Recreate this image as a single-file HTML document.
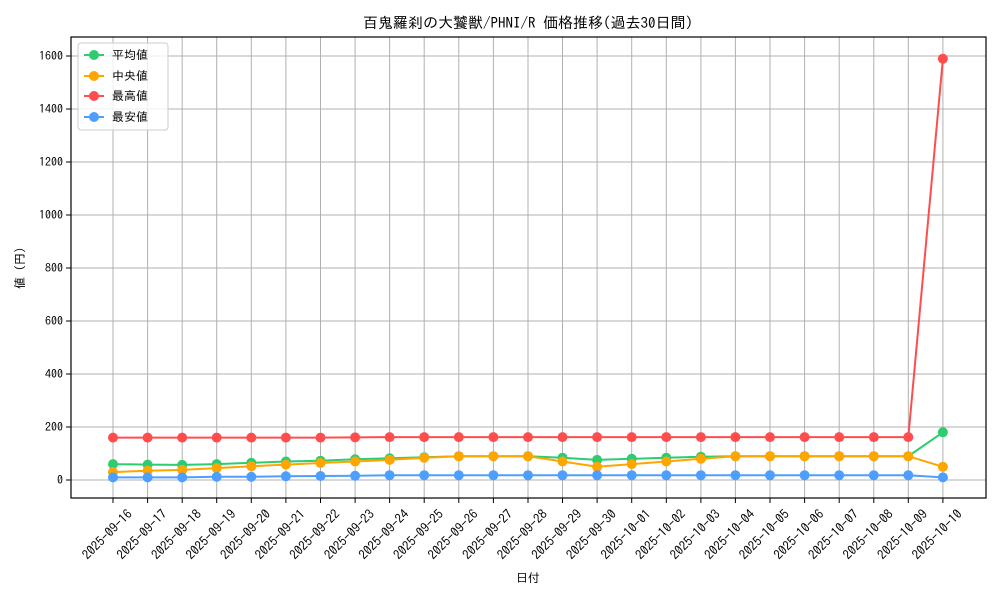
<!DOCTYPE html>
<html><head><meta charset="utf-8"><style>
body{margin:0;background:#fff}
svg{display:block;font-family:"IPAGothic","Liberation Sans",sans-serif}
</style></head><body>
<svg width="1000" height="600" viewBox="0 0 1000 600" xmlns="http://www.w3.org/2000/svg">
<defs>
<marker id="mg" markerWidth="12" markerHeight="12" refX="6" refY="6" markerUnits="userSpaceOnUse"><circle cx="6" cy="6" r="5" fill="#2ecc71"/></marker>
<marker id="mo" markerWidth="12" markerHeight="12" refX="6" refY="6" markerUnits="userSpaceOnUse"><circle cx="6" cy="6" r="5" fill="#ffa500"/></marker>
<marker id="mr" markerWidth="12" markerHeight="12" refX="6" refY="6" markerUnits="userSpaceOnUse"><circle cx="6" cy="6" r="5" fill="#ff4d4d"/></marker>
<marker id="mb" markerWidth="12" markerHeight="12" refX="6" refY="6" markerUnits="userSpaceOnUse"><circle cx="6" cy="6" r="5" fill="#4d9fff"/></marker>
</defs>
<text x="528" y="28" font-size="15" text-anchor="middle">百鬼羅刹の大饕獣/PHNI/R 価格推移(過去30日間)</text>
<g stroke="#b0b0b0" stroke-width="1">
<line x1="113" y1="37" x2="113" y2="498"/><line x1="147.6" y1="37" x2="147.6" y2="498"/><line x1="182.2" y1="37" x2="182.2" y2="498"/><line x1="216.7" y1="37" x2="216.7" y2="498"/><line x1="251.3" y1="37" x2="251.3" y2="498"/><line x1="285.9" y1="37" x2="285.9" y2="498"/><line x1="320.5" y1="37" x2="320.5" y2="498"/><line x1="355.1" y1="37" x2="355.1" y2="498"/><line x1="389.6" y1="37" x2="389.6" y2="498"/><line x1="424.2" y1="37" x2="424.2" y2="498"/><line x1="458.8" y1="37" x2="458.8" y2="498"/><line x1="493.4" y1="37" x2="493.4" y2="498"/><line x1="528" y1="37" x2="528" y2="498"/><line x1="562.5" y1="37" x2="562.5" y2="498"/><line x1="597.1" y1="37" x2="597.1" y2="498"/><line x1="631.7" y1="37" x2="631.7" y2="498"/><line x1="666.3" y1="37" x2="666.3" y2="498"/><line x1="700.9" y1="37" x2="700.9" y2="498"/><line x1="735.4" y1="37" x2="735.4" y2="498"/><line x1="770" y1="37" x2="770" y2="498"/><line x1="804.6" y1="37" x2="804.6" y2="498"/><line x1="839.2" y1="37" x2="839.2" y2="498"/><line x1="873.8" y1="37" x2="873.8" y2="498"/><line x1="908.3" y1="37" x2="908.3" y2="498"/><line x1="942.9" y1="37" x2="942.9" y2="498"/>
<line x1="71" y1="480" x2="986" y2="480"/><line x1="71" y1="427" x2="986" y2="427"/><line x1="71" y1="374" x2="986" y2="374"/><line x1="71" y1="321" x2="986" y2="321"/><line x1="71" y1="268" x2="986" y2="268"/><line x1="71" y1="215" x2="986" y2="215"/><line x1="71" y1="162" x2="986" y2="162"/><line x1="71" y1="109" x2="986" y2="109"/><line x1="71" y1="56" x2="986" y2="56"/>
</g>
<g fill="none" stroke-width="2">
<polyline stroke="#ff4d4d" marker-start="url(#mr)" marker-mid="url(#mr)" marker-end="url(#mr)" points="113,437.6 147.6,437.6 182.2,437.6 216.7,437.6 251.3,437.6 285.9,437.6 320.5,437.6 355.1,437.4 389.6,437.1 424.2,437.1 458.8,437.1 493.4,437.1 528,437.1 562.5,437.1 597.1,437.1 631.7,437.1 666.3,437.1 700.9,437.1 735.4,437.1 770,437.1 804.6,437.1 839.2,437.1 873.8,437.1 908.3,437.1 942.9,58.7"/>
<polyline stroke="#2ecc71" marker-start="url(#mg)" marker-mid="url(#mg)" marker-end="url(#mg)" points="113,464.1 147.6,464.6 182.2,464.9 216.7,464.1 251.3,462.8 285.9,461.5 320.5,460.7 355.1,459.3 389.6,458.3 424.2,457.2 458.8,456.2 493.4,456.2 528,456.2 562.5,457.7 597.1,459.9 631.7,458.8 666.3,457.7 700.9,456.7 735.4,456.2 770,456.2 804.6,456.2 839.2,456.2 873.8,456.2 908.3,456.2 942.9,432.3"/>
<polyline stroke="#ffa500" marker-start="url(#mo)" marker-mid="url(#mo)" marker-end="url(#mo)" points="113,472.1 147.6,470.7 182.2,469.9 216.7,468.1 251.3,466.2 285.9,464.6 320.5,463 355.1,461.5 389.6,459.9 424.2,457.7 458.8,456.2 493.4,456.2 528,456.2 562.5,461.5 597.1,466.8 631.7,464.1 666.3,461.5 700.9,458.8 735.4,456.2 770,456.2 804.6,456.2 839.2,456.2 873.8,456.2 908.3,456.2 942.9,466.8"/>
<polyline stroke="#4d9fff" marker-start="url(#mb)" marker-mid="url(#mb)" marker-end="url(#mb)" points="113,477.4 147.6,477.4 182.2,477.4 216.7,476.8 251.3,476.8 285.9,476.3 320.5,476 355.1,475.8 389.6,475.2 424.2,475.2 458.8,475.2 493.4,475.2 528,475.2 562.5,475.2 597.1,475.2 631.7,475.2 666.3,475.2 700.9,475.2 735.4,475.2 770,475.2 804.6,475.2 839.2,475.2 873.8,475.2 908.3,475.2 942.9,477.4"/>
</g>
<rect x="71" y="37" width="915" height="461" fill="none" stroke="#000" stroke-width="1.2"/>
<g stroke="#000"><line x1="66" y1="480" x2="71" y2="480"/><line x1="66" y1="427" x2="71" y2="427"/><line x1="66" y1="374" x2="71" y2="374"/><line x1="66" y1="321" x2="71" y2="321"/><line x1="66" y1="268" x2="71" y2="268"/><line x1="66" y1="215" x2="71" y2="215"/><line x1="66" y1="162" x2="71" y2="162"/><line x1="66" y1="109" x2="71" y2="109"/><line x1="66" y1="56" x2="71" y2="56"/></g>
<g stroke="#000">
<line x1="113" y1="498" x2="113" y2="503"/><line x1="147.6" y1="498" x2="147.6" y2="503"/><line x1="182.2" y1="498" x2="182.2" y2="503"/><line x1="216.7" y1="498" x2="216.7" y2="503"/><line x1="251.3" y1="498" x2="251.3" y2="503"/><line x1="285.9" y1="498" x2="285.9" y2="503"/><line x1="320.5" y1="498" x2="320.5" y2="503"/><line x1="355.1" y1="498" x2="355.1" y2="503"/><line x1="389.6" y1="498" x2="389.6" y2="503"/><line x1="424.2" y1="498" x2="424.2" y2="503"/><line x1="458.8" y1="498" x2="458.8" y2="503"/><line x1="493.4" y1="498" x2="493.4" y2="503"/><line x1="528" y1="498" x2="528" y2="503"/><line x1="562.5" y1="498" x2="562.5" y2="503"/><line x1="597.1" y1="498" x2="597.1" y2="503"/><line x1="631.7" y1="498" x2="631.7" y2="503"/><line x1="666.3" y1="498" x2="666.3" y2="503"/><line x1="700.9" y1="498" x2="700.9" y2="503"/><line x1="735.4" y1="498" x2="735.4" y2="503"/><line x1="770" y1="498" x2="770" y2="503"/><line x1="804.6" y1="498" x2="804.6" y2="503"/><line x1="839.2" y1="498" x2="839.2" y2="503"/><line x1="873.8" y1="498" x2="873.8" y2="503"/><line x1="908.3" y1="498" x2="908.3" y2="503"/><line x1="942.9" y1="498" x2="942.9" y2="503"/>
</g>
<g font-size="12" text-anchor="end">
<text x="63" y="484">0</text><text x="63" y="431">200</text><text x="63" y="378">400</text><text x="63" y="325">600</text><text x="63" y="272">800</text><text x="63" y="219">1000</text><text x="63" y="166">1200</text><text x="63" y="113">1400</text><text x="63" y="60">1600</text>
</g>
<text x="24" y="268" font-size="12" text-anchor="middle" transform="rotate(-90 24 268)">値 (円)</text>
<text x="528" y="582" font-size="12" text-anchor="middle">日付</text>
<g font-size="13" text-anchor="end">
<text transform="translate(133,515) rotate(-45)" textLength="64" lengthAdjust="spacingAndGlyphs">2025-09-16</text><text transform="translate(167.6,515) rotate(-45)" textLength="64" lengthAdjust="spacingAndGlyphs">2025-09-17</text><text transform="translate(202.2,515) rotate(-45)" textLength="64" lengthAdjust="spacingAndGlyphs">2025-09-18</text><text transform="translate(236.7,515) rotate(-45)" textLength="64" lengthAdjust="spacingAndGlyphs">2025-09-19</text><text transform="translate(271.3,515) rotate(-45)" textLength="64" lengthAdjust="spacingAndGlyphs">2025-09-20</text><text transform="translate(305.9,515) rotate(-45)" textLength="64" lengthAdjust="spacingAndGlyphs">2025-09-21</text><text transform="translate(340.5,515) rotate(-45)" textLength="64" lengthAdjust="spacingAndGlyphs">2025-09-22</text><text transform="translate(375.1,515) rotate(-45)" textLength="64" lengthAdjust="spacingAndGlyphs">2025-09-23</text><text transform="translate(409.6,515) rotate(-45)" textLength="64" lengthAdjust="spacingAndGlyphs">2025-09-24</text><text transform="translate(444.2,515) rotate(-45)" textLength="64" lengthAdjust="spacingAndGlyphs">2025-09-25</text><text transform="translate(478.8,515) rotate(-45)" textLength="64" lengthAdjust="spacingAndGlyphs">2025-09-26</text><text transform="translate(513.4,515) rotate(-45)" textLength="64" lengthAdjust="spacingAndGlyphs">2025-09-27</text><text transform="translate(548,515) rotate(-45)" textLength="64" lengthAdjust="spacingAndGlyphs">2025-09-28</text><text transform="translate(582.5,515) rotate(-45)" textLength="64" lengthAdjust="spacingAndGlyphs">2025-09-29</text><text transform="translate(617.1,515) rotate(-45)" textLength="64" lengthAdjust="spacingAndGlyphs">2025-09-30</text><text transform="translate(651.7,515) rotate(-45)" textLength="64" lengthAdjust="spacingAndGlyphs">2025-10-01</text><text transform="translate(686.3,515) rotate(-45)" textLength="64" lengthAdjust="spacingAndGlyphs">2025-10-02</text><text transform="translate(720.9,515) rotate(-45)" textLength="64" lengthAdjust="spacingAndGlyphs">2025-10-03</text><text transform="translate(755.4,515) rotate(-45)" textLength="64" lengthAdjust="spacingAndGlyphs">2025-10-04</text><text transform="translate(790,515) rotate(-45)" textLength="64" lengthAdjust="spacingAndGlyphs">2025-10-05</text><text transform="translate(824.6,515) rotate(-45)" textLength="64" lengthAdjust="spacingAndGlyphs">2025-10-06</text><text transform="translate(859.2,515) rotate(-45)" textLength="64" lengthAdjust="spacingAndGlyphs">2025-10-07</text><text transform="translate(893.8,515) rotate(-45)" textLength="64" lengthAdjust="spacingAndGlyphs">2025-10-08</text><text transform="translate(928.3,515) rotate(-45)" textLength="64" lengthAdjust="spacingAndGlyphs">2025-10-09</text><text transform="translate(962.9,515) rotate(-45)" textLength="64" lengthAdjust="spacingAndGlyphs">2025-10-10</text>
</g>
<g>
<rect x="78" y="43" width="90" height="87" rx="3" fill="#fff" fill-opacity="0.8" stroke="#ccc"/>
<line x1="84" y1="55" x2="104" y2="55" stroke="#2ecc71" stroke-width="2"/><circle cx="94" cy="55" r="5" fill="#2ecc71"/>
<line x1="84" y1="76" x2="104" y2="76" stroke="#ffa500" stroke-width="2"/><circle cx="94" cy="76" r="5" fill="#ffa500"/>
<line x1="84" y1="96" x2="104" y2="96" stroke="#ff4d4d" stroke-width="2"/><circle cx="94" cy="96" r="5" fill="#ff4d4d"/>
<line x1="84" y1="117" x2="104" y2="117" stroke="#4d9fff" stroke-width="2"/><circle cx="94" cy="117" r="5" fill="#4d9fff"/>
<g font-size="12"><text x="112" y="59">平均値</text><text x="112" y="80">中央値</text><text x="112" y="100">最高値</text><text x="112" y="121">最安値</text></g>
</g>
</svg>
</body></html>
